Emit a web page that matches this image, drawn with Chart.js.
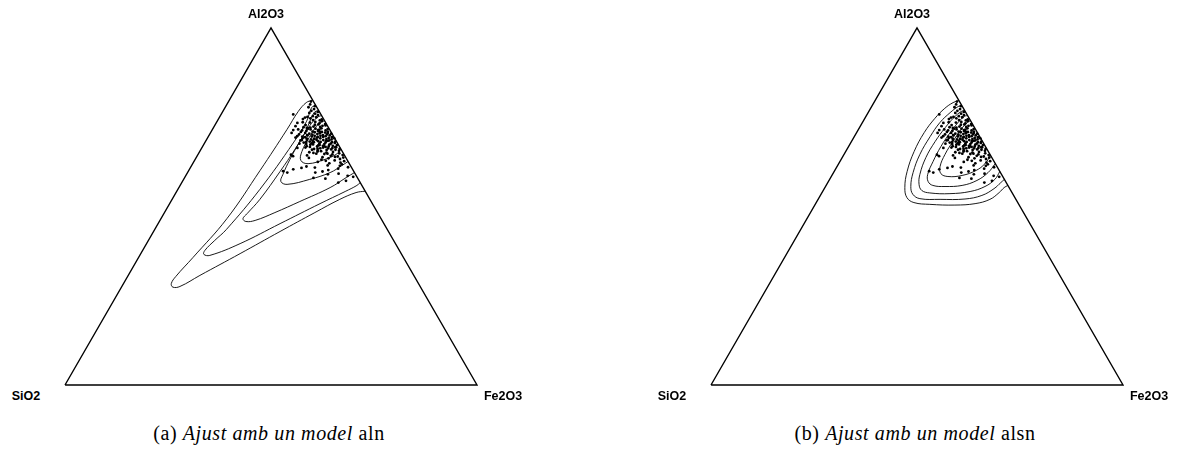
<!DOCTYPE html>
<html>
<head>
<meta charset="utf-8">
<script src="https://cdn.jsdelivr.net/npm/chart.js@4.4.1/dist/chart.umd.min.js"></script>
<style>
  html, body { margin: 0; padding: 0; background: #fff; }
  #page { position: relative; width: 1180px; height: 459px; overflow: hidden; background: #fff; }
  #page canvas { position: absolute; }
  .vtx {
    position: absolute; transform: translate(-50%, -50%); white-space: nowrap;
    font-family: "Liberation Sans", Arial, sans-serif; font-weight: bold; font-size: 12.5px; color: #000;
  }
  .cap {
    position: absolute; transform: translateX(-50%); white-space: nowrap;
    font-family: "Liberation Serif", "DejaVu Serif", serif; font-size: 20px; letter-spacing: 0.6px; color: #000;
  }
  .cap i { font-style: italic; }
</style>
</head>
<body>
<div id="page">
  <canvas id="panelA" width="432" height="377" style="left:55px; top:18px;"></canvas>
  <canvas id="panelB" width="432" height="377" style="left:701px; top:18px;"></canvas>
</div>
<script>
// Ternary components, in the order used for the vertex labels
const components = ["SiO2", "Al2O3", "Fe2O3"];

// Panel captions
const panelTags = ["(a)", "(b)"];
const captionText = "Ajust amb un model";
const modelNames = ["aln", "alsn"];

// Samples, as [Al2O3 %, SiO2 %]; Fe2O3 closes the composition to 100 %
const samples = [
  // Al2O3-rich tail
  [79.4,0.6],[78.6,1.2],[78.1,0.3],[77.8,2.0],[77.3,0.9],[76.8,1.8],[76.5,0.4],[76.2,2.6],
  [75.8,6.7],[76.0,1.3],[75.6,0.8],[75.3,2.2],[75.0,1.5],[74.7,3.1],[74.4,0.5],[74.2,2.7],
  [74.9,4.3],[74.1,1.1],[75.1,3.6],[74.5,5.0],
  // 72-74 % Al2O3
  [73.9,0.7],[73.7,2.4],[73.5,3.8],[73.3,1.6],[73.1,0.3],[72.9,2.9],[72.8,5.2],[72.6,1.2],
  [72.4,3.5],[72.2,6.0],[72.1,4.4],[73.4,6.9],[72.5,7.8],[73.0,2.0],[72.7,0.4],[72.3,1.9],
  [73.6,5.5],[72.0,5.3],
  // 70-72 % Al2O3
  [71.9,1.8],[71.8,3.3],[71.7,0.4],[71.6,4.6],[71.5,2.5],[71.3,1.1],[71.2,5.8],[71.1,3.0],
  [71.0,0.7],[70.9,2.2],[70.8,4.0],[70.7,1.5],[70.6,6.4],[70.5,2.9],[70.4,0.2],[70.3,3.6],
  [70.2,1.3],[70.1,4.9],[70.0,2.4],[71.4,8.9],[70.6,9.7],[71.8,5.1],[71.3,6.8],[70.9,7.3],
  [70.4,5.5],[71.6,7.6],[70.2,8.1],[71.0,4.4],[70.6,0.9],[71.4,2.9],[70.8,2.7],[70.0,6.2],
  // 68-70 % Al2O3
  [69.9,0.8],[69.8,3.1],[69.7,1.9],[69.6,5.3],[69.5,2.6],[69.4,0.5],[69.3,4.2],[69.2,1.4],
  [69.1,3.5],[69.0,6.8],[68.9,2.1],[68.8,0.9],[68.7,4.6],[68.6,3.0],[68.5,1.6],[68.4,5.7],
  [68.3,2.5],[68.2,0.3],[68.1,3.9],[68.0,1.2],[69.6,7.6],[68.6,8.2],[69.1,0.1],[68.4,2.0],
  [69.8,4.5],[69.9,6.2],[69.4,7.0],[68.9,5.1],[68.5,8.6],[68.2,6.5],[69.2,7.7],[68.8,5.9],
  [69.5,3.9],[68.3,4.4],[69.0,5.0],[68.7,6.9],[68.1,7.4],[69.7,8.8],[68.0,5.6],[69.3,9.4],
  // 66-68 % Al2O3
  [67.9,2.8],[67.8,0.6],[67.7,4.4],[67.6,1.7],[67.5,3.3],[67.4,6.1],[67.3,2.2],[67.2,0.4],
  [67.1,5.0],[67.0,1.5],[66.9,3.7],[66.8,2.6],[66.7,7.2],[66.6,0.9],[66.5,4.1],[66.4,1.9],
  [66.3,3.0],[66.2,5.6],[66.1,0.3],[66.0,2.4],[67.6,9.3],[66.4,10.4],[67.0,3.9],[66.6,1.1],
  [67.9,5.9],[67.3,6.8],[66.9,7.9],[66.5,8.4],[67.7,6.3],[67.2,4.6],[66.8,5.4],[66.1,6.5],
  [67.5,7.7],[66.3,4.9],[67.9,8.1],[66.7,3.4],
  // 64-66 % Al2O3
  [65.9,1.4],[65.8,3.6],[65.6,0.7],[65.5,5.1],[65.3,2.3],[65.1,4.0],[64.9,1.0],[64.8,6.6],
  [64.6,2.8],[64.5,12.9],[64.4,0.4],[64.2,3.4],[64.1,12.6],[64.0,1.8],[65.2,8.1],[64.7,4.7],
  [65.7,5.8],[65.0,7.2],[64.3,9.1],[65.4,6.0],[65.9,7.1],[64.8,3.9],
  // 62-64 % Al2O3
  [63.9,2.5],[63.7,0.6],[63.5,4.3],[63.3,1.6],[63.1,6.2],[62.9,3.1],[62.7,0.9],[62.5,7.4],
  [62.3,2.0],[62.1,4.8],[63.6,9.0],[63.8,5.6],[62.8,5.3],
  // below 62 % Al2O3
  [61.8,1.9],[61.5,5.5],[61.2,10.8],[61.0,0.8],[60.9,8.9],[60.6,3.4],[60.4,14.4],[60.2,6.0],
  [61.4,2.6],[59.9,17.1],[59.5,16.3],[59.5,9.5],[59.0,6.7],[59.2,4.0],[58.6,2.1],[58.0,10.7],
  [57.8,7.9],[56.7,5.3],[57.2,3.2],[58.3,0.9],[60.8,12.2],[59.8,7.6]
];

// Density contours of the fitted aln model, [Al2O3 %, SiO2 %], cut by the Al2O3-Fe2O3 side
const alnLevel1 = [[79.8,0],[79.1,1.9],[76.6,5.1],[71.6,10.3],[60.1,22.6],[46.6,37.4],[35.7,51.1],
  [30.4,57.9],[28.4,60.0],[27.4,60.1],[27.6,58.3],[30.7,51.9],[36.8,39.1],[43.0,26.3],[48.3,15.2],
  [52.0,7.3],[53.9,2.4],[54.3,0]];
const alnLevel2 = [[78.3,0],[77.7,1.3],[73.9,4.4],[67.8,10.7],[54.8,25.3],[43.6,39.0],[40.5,43.4],
  [37.7,47.2],[36.6,48.0],[36.3,46.7],[39.6,37.7],[45.2,25.2],[50.8,12.7],[54.2,4.9],[55.9,1.2],[56.7,0]];
const alnLevel3 = [[76.9,0],[76.3,1.4],[70.7,6.4],[66.0,11.2],[59.8,17.9],[52.0,26.7],[48.0,31.8],
  [46.6,33.5],[45.8,33.2],[46.1,30.8],[48.3,24.9],[51.4,17.3],[55.3,8.0],[58.1,2.7],[59.5,0]];
const alnLevel4 = [[75.5,0],[74.9,1.4],[72.7,4.2],[68.2,8.9],[63.2,13.8],[59.0,17.6],[57.0,19.1],
  [56.2,18.0],[57.6,11.8],[59.5,5.9],[61.5,2.0],[62.6,0]];
const alnLevel5 = [[74.1,0],[73.0,2.1],[69.3,6.1],[65.4,9.8],[62.9,11.3],[62.0,10.0],[63.2,5.3],
  [64.6,1.9],[66.0,0]];

// Density contours of the fitted alsn model
const alsnLevel1 = [[79.7,0],[79.1,1.7],[77.5,4.5],[74.7,8.3],[70.7,12.9],[65.4,18.0],[59.8,22.5],
  [55.3,25.3],[52.5,26.2],[51.1,25.2],[50.6,21.6],[50.4,15.6],[50.8,10.5],[52.0,6.3],[53.9,3.1],
  [55.3,1.2],[55.9,0]];
const alsnLevel2 = [[78.3,0],[78.0,1.0],[76.3,3.8],[73.5,7.7],[69.6,12.0],[64.6,17.0],[59.5,21.2],
  [55.6,23.7],[53.4,24.3],[52.2,23.2],[52.0,18.4],[52.1,12.3],[53.1,7.7],[55.0,3.8],[56.7,1.3],[57.6,0]];
const alsnLevel3 = [[76.9,0],[76.6,1.0],[74.9,3.6],[72.1,7.1],[68.2,11.5],[63.7,16.0],[59.0,19.8],
  [56.2,21.4],[54.5,21.6],[53.8,20.0],[53.6,15.2],[54.2,10.0],[55.6,5.7],[57.6,2.3],[59.8,0]];
const alsnLevel4 = [[75.5,0],[75.2,1.0],[73.5,3.3],[70.7,6.6],[66.8,10.8],[62.6,14.8],[59.0,17.9],
  [57.0,18.8],[55.9,18.2],[55.6,15.4],[55.9,11.1],[57.3,6.8],[59.5,3.0],[62.0,0]];
const alsnLevel5 = [[74.1,0],[73.5,1.1],[71.6,3.5],[68.2,7.2],[64.6,10.9],[61.2,13.8],[59.2,14.6],
  [58.4,13.3],[58.7,9.7],[60.1,5.6],[62.0,2.5],[64.3,0]];

// Outline of the simplex: SiO2 corner, Fe2O3 corner, Al2O3 corner, back to SiO2
const simplexOutline = [[0,100],[0,0],[100,0],[0,100]];

const H = Math.sqrt(3) / 2;

// Composition [Al2O3 %, SiO2 %] -> position in the equilateral triangle (side 1)
function toPlane(c) {
  const al = c[0] / 100, si = c[1] / 100;
  return { x: 1 - si - al / 2, y: al * H };
}

function drawTernary(canvasId, levels) {
  const datasets = [{
    data: simplexOutline.map(toPlane), showLine: true, tension: 0,
    borderColor: "#000", borderWidth: 1.4, pointRadius: 0, clip: false
  }];
  levels.forEach(level => datasets.push({
    data: level.map(toPlane), showLine: true, tension: 0.4,
    borderColor: "#000", borderWidth: 0.9, pointRadius: 0, clip: false
  }));
  datasets.push({
    data: samples.map(toPlane), showLine: false,
    pointRadius: 1.4, pointBorderWidth: 0, pointBackgroundColor: "#000", clip: false
  });
  new Chart(document.getElementById(canvasId), {
    type: "scatter",
    data: { datasets },
    options: {
      responsive: false, animation: false, events: [],
      layout: { padding: 10 },
      plugins: { legend: { display: false }, tooltip: { enabled: false } },
      scales: {
        x: { type: "linear", min: 0, max: 1, display: false },
        y: { type: "linear", min: 0, max: H, display: false }
      }
    }
  });
}

drawTernary("panelA", [alnLevel1, alnLevel2, alnLevel3, alnLevel4, alnLevel5]);
drawTernary("panelB", [alsnLevel1, alsnLevel2, alsnLevel3, alsnLevel4, alsnLevel5]);

// Vertex labels and captions
const page = document.getElementById("page");
function addText(cls, html, left, top) {
  const d = document.createElement("div");
  d.className = cls;
  d.innerHTML = html;
  d.style.left = left + "px";
  d.style.top = top + "px";
  page.appendChild(d);
}
[0, 646].forEach((dx, i) => {
  addText("vtx", components[1], 266 + dx, 14);
  addText("vtx", components[0], 26 + dx, 396);
  addText("vtx", components[2], 503 + dx, 396);
  addText("cap", panelTags[i] + " <i>" + captionText + "</i> " + modelNames[i], 269 + dx, 422);
});
</script>
</body>
</html>
